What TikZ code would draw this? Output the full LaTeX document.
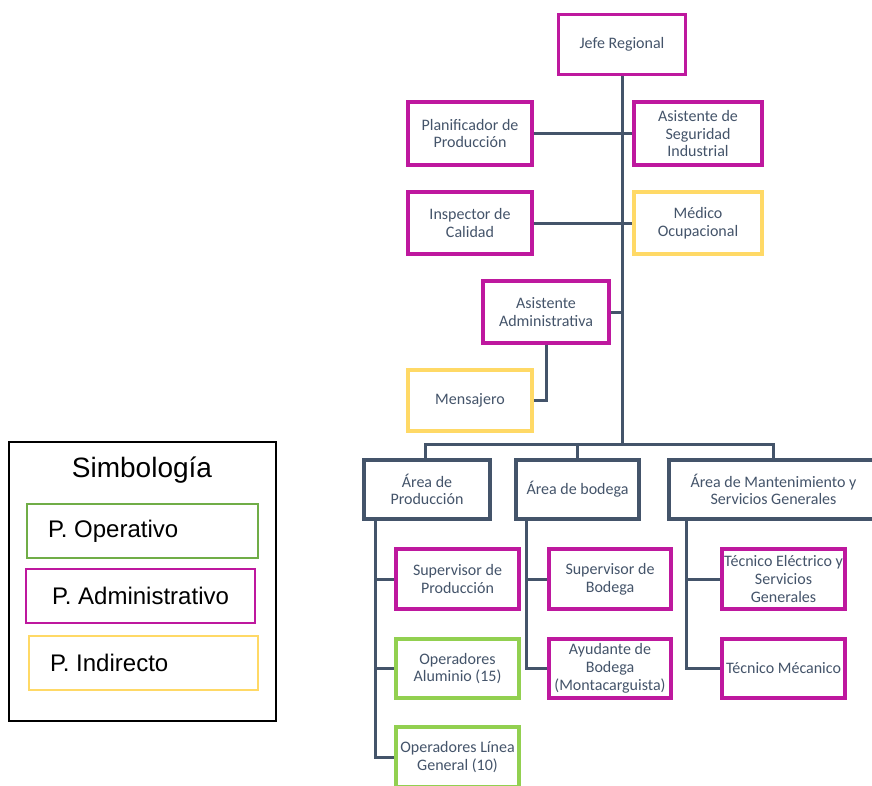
\documentclass[tikz,border=0pt]{standalone}
\usepackage{fontspec}
\setmainfont{Carlito}
\newfontfamily\legfont{Liberation Sans}
\usetikzlibrary{calc}
\definecolor{mag}{RGB}{190,24,158}
\definecolor{yel}{RGB}{255,217,102}
\definecolor{grn}{RGB}{146,208,80}
\definecolor{lgrn}{RGB}{112,173,71}
\definecolor{slate}{RGB}{68,84,106}
\tikzset{
  box/.style={draw, line width=3.6pt, fill=white, text=slate, align=center,
    font=\fontsize{16}{17.7}\selectfont, inner sep=1pt, minimum height=61pt},
  admin/.style={box, draw=mag},
  indir/.style={box, draw=yel},
  oper/.style={box, draw=grn},
  area/.style={box, draw=slate, line width=4pt},
  conn/.style={draw=slate, line width=3pt},
  legbox/.style={draw, line width=1.5pt, minimum width=230pt, minimum height=54pt,
    font=\legfont\fontsize{24}{28}\selectfont, text=black, inner sep=0pt}
}
\begin{document}
\begin{tikzpicture}[x=1pt,y=-1pt]
\useasboundingbox (0,0) rectangle (872,785);
\clip (0,0) rectangle (872,785);
\fill[white] (0,0) rectangle (872,785);

% nodes
\node[admin, minimum width=127pt, minimum height=60pt] (jefe) at (622,44.5) {Jefe Regional};
\node[admin, minimum width=124pt, minimum height=63pt] (plan) at (470,133.5) {Planificador de\\Producción};
\node[admin, minimum width=128pt, minimum height=63pt] (seg) at (698,133.5) {Asistente de\\Seguridad\\Industrial};
\node[admin, minimum width=124pt, minimum height=62pt] (insp) at (470,223) {Inspector de\\Calidad};
\node[indir, minimum width=128pt, minimum height=62pt] (med) at (698,223) {Médico\\Ocupacional};
\node[admin, minimum width=126pt, minimum height=62pt] (asis) at (546,312) {Asistente\\Administrativa};
\node[indir, minimum width=124pt, minimum height=61pt] (mens) at (470,400.5) {Mensajero};

\node[area, minimum width=126pt, minimum height=59pt] (aprod) at (427,489.5) {Área de\\Producción};
\node[area, minimum width=123pt, minimum height=59pt] (abod) at (577.5,489.5) {Área de bodega};
\node[area, minimum width=209pt, minimum height=59pt] (aman) at (773.5,489.5) {Área de Mantenimiento y\\Servicios Generales};

\node[admin, minimum width=123pt, minimum height=60pt] (supprod) at (457.5,579) {Supervisor de\\Producción};
\node[oper, minimum width=123pt, minimum height=59pt] (opal) at (457.5,668.5) {Operadores\\Aluminio (15)};
\node[oper, minimum width=123pt, minimum height=60pt] (oplin) at (457.5,757) {Operadores Línea\\General (10)};

\node[admin, minimum width=122pt, minimum height=60pt] (supbod) at (610,579) {Supervisor de\\Bodega};
\node[admin, minimum width=122pt, minimum height=59pt] (ayud) at (610,668.5) {Ayudante de\\Bodega\\(Montacarguista)};

\node[admin, minimum width=123pt, minimum height=60pt] (tecel) at (783.5,579) {Técnico Eléctrico y\\Servicios\\Generales};
\node[admin, minimum width=123pt, minimum height=59pt] (tecmec) at (783.5,668.5) {Técnico Mécanico};

% connectors
\coordinate (bus) at (jefe.south |- 0,444);
\path[conn] (jefe.south) -- (bus);
\path[conn] (plan.east) -- (seg.west);
\path[conn] (insp.east) -- (med.west);
\path[conn] (asis.east) -- (asis.east -| bus);
\path[conn] (asis.south) |- (mens.east);
\path[conn] ([xshift=-1.5pt]aprod.north) |- (bus) -| (aman.north);
\path[conn] (abod.north) -- (abod.north |- bus);
\coordinate (ps) at ([xshift=13pt]aprod.south west);
\coordinate (bs) at ([xshift=12pt]abod.south west);
\coordinate (ms) at ([xshift=19pt]aman.south west);
\path[conn] (ps) |- (supprod.west);
\path[conn] (ps) |- (opal.west);
\path[conn] (ps) |- (oplin.west);
\path[conn] (bs) |- (supbod.west);
\path[conn] (bs) |- (ayud.west);
\path[conn] (ms) |- (tecel.west);
\path[conn] (ms) |- (tecmec.west);

% legend
\node[draw=black, line width=1.5pt, minimum width=267pt, minimum height=279pt, inner sep=0pt] (leg) at (142.5,581.5) {};
\node[font=\legfont\fontsize{28}{32}\selectfont, text=black, inner sep=0pt] (legtitle) at (142,470) {Simbología};
\node[legbox, draw=lgrn, minimum width=231pt] (lop) at (142.5,531) {\makebox[189pt][l]{P. Operativo}};
\node[legbox, draw=mag, minimum width=229pt] (lad) at (140.5,596) {\makebox[177pt][l]{P. Administrativo}};
\node[legbox, draw=yel, minimum width=229pt] (lin) at (143.5,663) {\makebox[187pt][l]{P. Indirecto}};
\end{tikzpicture}
\end{document}
